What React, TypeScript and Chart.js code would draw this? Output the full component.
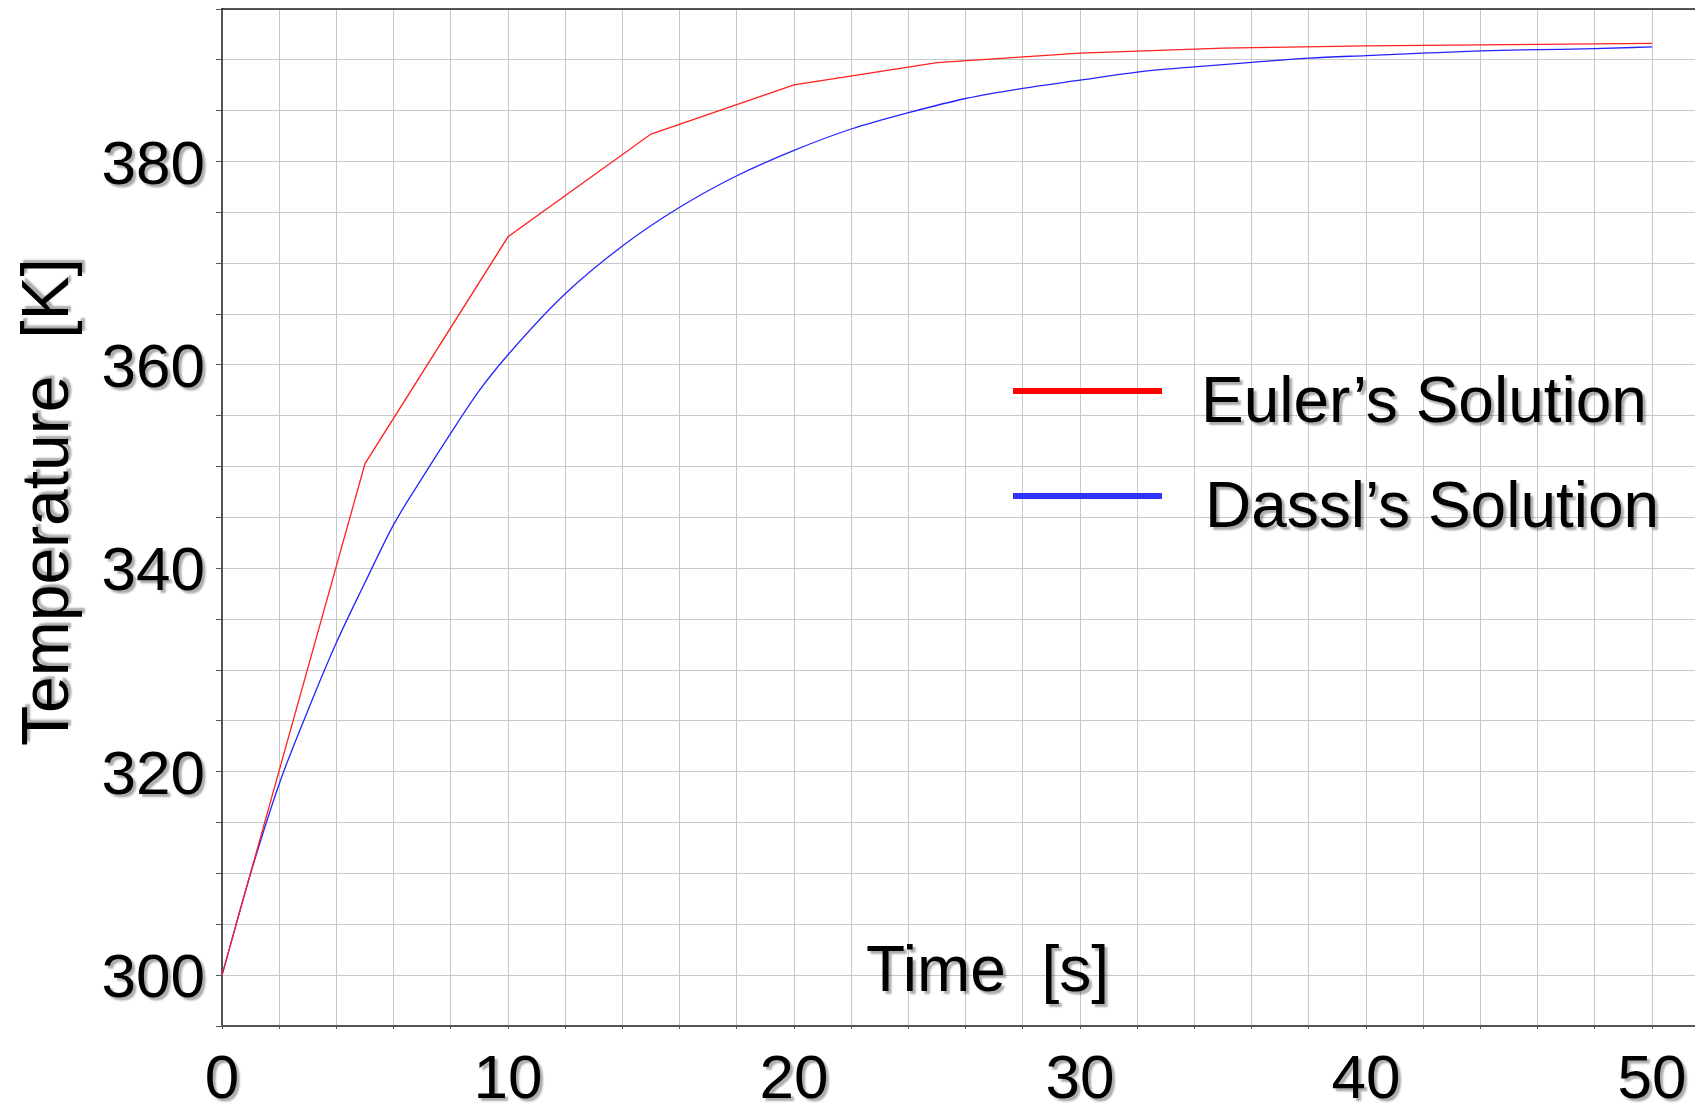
import React, { useEffect, useRef } from 'react';
import { Chart, registerables } from 'chart.js';

Chart.register(...registerables);

// ---- Data ----
const eulerTime = [0, 5, 10, 15, 20, 25, 30, 35, 40, 45, 50];
const eulerTemp = [300, 350.3, 372.6, 382.7, 387.55, 389.73, 390.66, 391.15, 391.37, 391.5, 391.62];

const dasslTime = [0, 1, 2, 3, 4, 5, 6, 7, 8, 9, 10, 12, 14, 16, 18, 20, 22, 24, 26, 28, 30, 32, 34, 36, 38, 40, 42, 44, 46, 48, 50];
const dasslTemp = [300, 310.0, 318.8, 326.0, 332.7, 338.6, 344.3, 348.9, 353.3, 357.5, 361.0, 367.0, 371.7, 375.5, 378.6, 381.1, 383.2, 384.8, 386.2, 387.2, 388.0, 388.8, 389.3, 389.75, 390.16, 390.42, 390.66, 390.88, 391.0, 391.1, 391.28];

const xLabelTicks = [0, 10, 20, 30, 40, 50];
const yLabelTicks = [300, 320, 340, 360, 380];
const seriesNames = ['Euler\u2019s Solution', 'Dassl\u2019s Solution'];
const seriesColors = ['#ff0000', '#3333ff'];
const xTitle = 'Time  [s]';
const yTitle = 'Temperature  [K]';

const FONT = '"Liberation Sans", Arial, sans-serif';
const SHADOW = 'rgba(0,0,0,0.33)';

function withShadow(ctx: CanvasRenderingContext2D, fn: () => void) {
  ctx.save();
  ctx.shadowColor = SHADOW;
  ctx.shadowOffsetX = 3;
  ctx.shadowOffsetY = 3;
  ctx.shadowBlur = 2;
  fn();
  ctx.restore();
}

const shadowLabelsPlugin = {
  id: 'shadowLabels',
  beforeDraw(chart: any) {
    for (const id of ['x', 'y']) {
      const s: any = chart.scales[id];
      if (s && !s.__patched) {
        const orig = s.drawLabels;
        s.drawLabels = function (area: any) {
          const ctx = chart.ctx;
          withShadow(ctx, () => orig.call(s, area));
        };
        s.__patched = true;
      }
    }
  },
};

const decorPlugin = {
  id: 'decor',
  afterDraw(chart: any) {
    const ctx: CanvasRenderingContext2D = chart.ctx;
    const a = chart.chartArea;
    // top border
    ctx.save();
    ctx.strokeStyle = '#222';
    ctx.lineWidth = 1.5;
    ctx.beginPath();
    ctx.moveTo(a.left, a.top);
    ctx.lineTo(a.right, a.top);
    ctx.stroke();
    ctx.restore();

    // legend
    const legendRows = [
      { lineY: 391, textY: 422, textX: 1201 },
      { lineY: 496, textY: 527, textX: 1205 },
    ];
    legendRows.forEach((r, i) => {
      ctx.save();
      ctx.strokeStyle = seriesColors[i];
      ctx.lineWidth = 6;
      ctx.beginPath();
      ctx.moveTo(1013, r.lineY);
      ctx.lineTo(1162, r.lineY);
      ctx.stroke();
      ctx.restore();
      withShadow(ctx, () => {
        ctx.fillStyle = '#000';
        ctx.font = `64px ${FONT}`;
        ctx.textAlign = 'left';
        ctx.textBaseline = 'alphabetic';
        ctx.fillText(seriesNames[i], r.textX, r.textY);
      });
    });

    // axis titles
    withShadow(ctx, () => {
      ctx.fillStyle = '#000';
      ctx.font = `64px ${FONT}`;
      ctx.textAlign = 'left';
      ctx.textBaseline = 'alphabetic';
      ctx.fillText(xTitle, 866, 991);
    });
    ctx.save();
    ctx.translate(68, 746);
    ctx.rotate(-Math.PI / 2);
    ctx.shadowColor = SHADOW;
    ctx.shadowOffsetX = 3;
    ctx.shadowOffsetY = -3;
    ctx.shadowBlur = 2;
    ctx.fillStyle = '#000';
    ctx.font = `66px ${FONT}`;
    ctx.textAlign = 'left';
    ctx.textBaseline = 'alphabetic';
    ctx.fillText(yTitle, 0, 0);
    ctx.restore();
  },
};

export default function App() {
  const ref = useRef<HTMLCanvasElement | null>(null);

  useEffect(() => {
    if (!ref.current) return;
    const chart = new Chart(ref.current, {
      type: 'line',
      data: {
        datasets: [
          {
            label: seriesNames[0],
            data: eulerTime.map((t, i) => ({ x: t, y: eulerTemp[i] })),
            borderColor: '#ff2020',
            borderWidth: 1.3,
            pointRadius: 0,
            tension: 0,
            fill: false,
          },
          {
            label: seriesNames[1],
            data: dasslTime.map((t, i) => ({ x: t, y: dasslTemp[i] })),
            borderColor: '#2424ff',
            borderWidth: 1.3,
            pointRadius: 0,
            cubicInterpolationMode: 'monotone',
            fill: false,
          },
        ],
      },
      options: {
        responsive: false,
        animation: false,
        events: [],
        layout: { padding: { top: 9, left: 0, right: 0, bottom: 0 } },
        plugins: {
          legend: { display: false },
          tooltip: { enabled: false },
          title: { display: false },
        },
        scales: {
          x: {
            type: 'linear',
            min: 0,
            max: 51.5,
            afterFit: (s: any) => {
              s.height = 81;
              s.paddingLeft = 0;
              s.paddingRight = 0;
            },
            ticks: {
              stepSize: 2,
              includeBounds: false,
              autoSkip: false,
              maxRotation: 0,
              minRotation: 0,
              padding: 15,
              color: '#000',
              font: { family: FONT, size: 62 },
              callback: (v: any) => (xLabelTicks.includes(Math.round(v)) && Math.abs(v - Math.round(v)) < 1e-6 ? String(Math.round(v)) : ''),
            },
            grid: { color: '#c8c8c8', lineWidth: 1, tickColor: '#555', tickLength: 3, drawTicks: true },
            border: { color: '#555', width: 2 },
          },
          y: {
            type: 'linear',
            min: 295,
            max: 395,
            afterFit: (s: any) => {
              s.width = 222;
              s.paddingTop = 0;
              s.paddingBottom = 0;
            },
            ticks: {
              stepSize: 5,
              autoSkip: false,
              padding: 11,
              labelOffset: 5,
              color: '#000',
              font: { family: FONT, size: 62 },
              callback: (v: any) => (yLabelTicks.includes(Math.round(v)) ? String(Math.round(v)) : ''),
            },
            grid: { color: '#c8c8c8', lineWidth: 1, tickColor: '#555', tickLength: 6, drawTicks: true },
            border: { color: '#555', width: 2 },
          },
        },
      },
      plugins: [shadowLabelsPlugin, decorPlugin],
    });
    return () => chart.destroy();
  }, []);

  return (
    <div style={{ position: 'absolute', left: 0, top: 0, width: 1695, height: 1107, background: '#fff' }}>
      <canvas ref={ref} width={1695} height={1107} style={{ display: 'block' }} />
    </div>
  );
}
